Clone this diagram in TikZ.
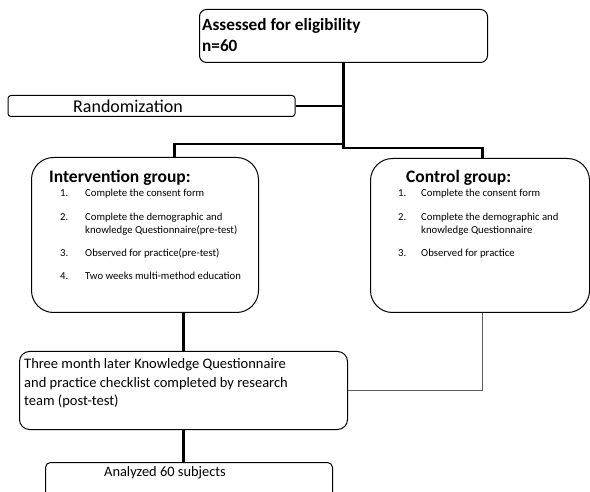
\documentclass[tikz,border=0pt]{standalone}
\usepackage{fontspec}
\setmainfont{Carlito}
\usetikzlibrary{positioning}

\begin{document}
\begin{tikzpicture}[x=1pt, y=-1pt,
    flowbox/.style  = {draw, line width=1pt, inner sep=0pt, anchor=north west},
    boxtext/.style  = {anchor=base west, inner sep=0pt},
    link/.style     = {line width=2.7pt},
    thinlink/.style = {line width=1.3pt, draw=black!65}]
  \useasboundingbox (0,0) rectangle (590,492);

  \node[flowbox, rounded corners=7pt,  minimum width=288pt, minimum height=53pt]  (assess) at (199,9)   {};
  \node[flowbox, rounded corners=3pt,  minimum width=287pt, minimum height=21pt]  (rand)   at (7.5,95)  {};
  \node[flowbox, rounded corners=22pt, minimum width=227pt, minimum height=155pt] (intv)   at (31,157)  {};
  \node[flowbox, rounded corners=22pt, minimum width=219pt, minimum height=154pt] (ctrl)   at (370,158) {};
  \node[flowbox, rounded corners=10pt, minimum width=328pt, minimum height=78pt]  (post)   at (19,351)  {};
  \node[flowbox, rounded corners=5pt,  minimum width=287pt, minimum height=45pt]  (done)   at (45,462)  {};

  \node[boxtext, font=\fontsize{17.2}{21}\selectfont\bfseries] (assesstext) at ([shift={(3,22)}]assess.north west)
       {\begin{tabular}[t]{@{}l@{}}Assessed for eligibility\\n=60\end{tabular}};
  \node[boxtext, font=\fontsize{18}{21}\selectfont] (randtext) at ([shift={(65.5,18)}]rand.north west) {Randomization};

  \node[boxtext, font=\fontsize{10.7}{13}\selectfont] (intvtext) at ([shift={(18,26)}]intv.north west)
       {\begin{tabular}[t]{@{\hspace{11pt}}p{25pt}@{}l@{}}
          \multicolumn{2}{@{}l@{}}{\fontsize{17.5}{21}\selectfont\bfseries Intervention group:}\\[1pt]
          1. & Complete the consent form\\[11pt]
          2. & Complete the demographic and\\
             & knowledge Questionnaire(pre-test)\\[10pt]
          3. & Observed for practice(pre-test)\\[10pt]
          4. & Two weeks multi-method education
        \end{tabular}};
  \node[boxtext, font=\fontsize{10.7}{13}\selectfont] (ctrltext) at ([shift={(28,25)}]ctrl.north west)
       {\begin{tabular}[t]{@{}p{23pt}@{}l@{}}
          \multicolumn{2}{@{\hspace{8pt}}l@{}}{\fontsize{17.5}{21}\selectfont\bfseries Control group:}\\[1pt]
          1. & Complete the consent form\\[11pt]
          2. & Complete the demographic and\\
             & knowledge Questionnaire\\[10pt]
          3. & Observed for practice
        \end{tabular}};

  \node[boxtext, font=\fontsize{14.5}{18}\selectfont] (posttext) at ([shift={(5,18)}]post.north west)
       {\begin{tabular}[t]{@{}l@{}}
          Three month later Knowledge Questionnaire\\
          and practice checklist completed by research\\
          team (post-test)
        \end{tabular}};
  \node[boxtext, font=\fontsize{14.4}{18}\selectfont] (donetext) at ([shift={(59,14)}]done.north west) {Analyzed 60 subjects};

  \coordinate (split) at ([yshift=-81pt]assess.south);
  \draw[link] (rand.east) -- (rand.east -| assess.south);
  \draw[link] (assess.south) -- ++(0,85) -| ([xshift=2.5pt]ctrl.north);
  \draw[link] (split) -| ([xshift=29.5pt]intv.north);
  \draw[link] ([xshift=38.5pt]intv.south) -- (post.north);
  \draw[thinlink] ([xshift=2.5pt]ctrl.south) |- (post.east);
  \draw[link] (post.south) -- (post.south |- done.north);
\end{tikzpicture}
\end{document}
